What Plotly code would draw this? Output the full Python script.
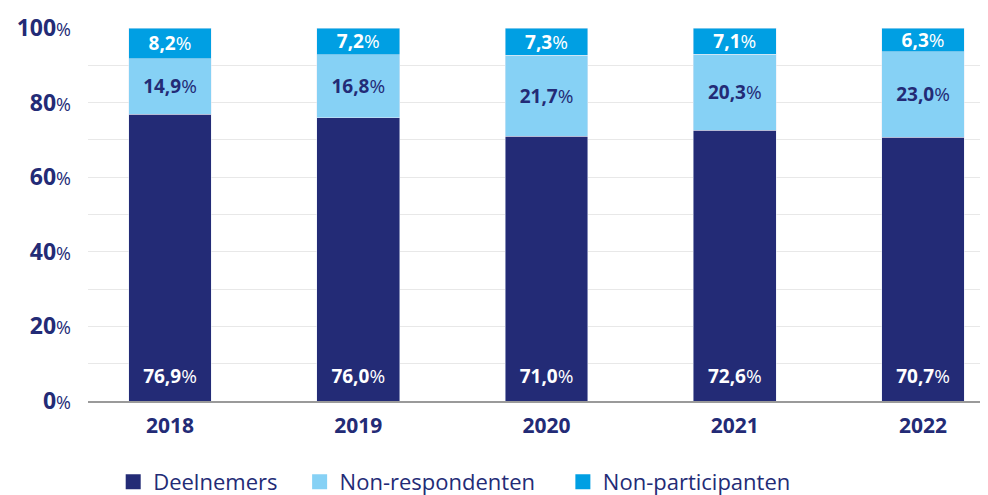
import plotly.graph_objects as go

years = ["2018", "2019", "2020", "2021", "2022"]
deelnemers = [76.9, 76.0, 71.0, 72.6, 70.7]
non_respondenten = [14.9, 16.8, 21.7, 20.3, 23.0]
non_participanten = [8.2, 7.2, 7.3, 7.1, 6.3]
y_ticks = [0, 20, 40, 60, 80, 100]
series_names = ["Deelnemers", "Non-respondenten", "Non-participanten"]

NAVY = "#232B76"
LIGHT = "#86D1F5"
MID = "#009FE3"
FONT = "Open Sans"
BAR_W = 0.44
LABEL_Y = 6.2  # vertical position (data units) of labels of the bottom segment
NBSP = "\u00a0"
LEGEND_PAD = [3, 4, 0]  # trailing spaces after each legend label


def fmt(v):
    return f"<b>{v:.1f}".replace(".", ",") + "</b>%"


fig = go.Figure()
fig.add_trace(go.Bar(
    x=years, y=deelnemers, name=series_names[0], marker_color=NAVY,
    width=BAR_W, showlegend=False, hoverinfo="skip",
))
fig.add_trace(go.Bar(
    x=years, y=non_respondenten, name=series_names[1], marker_color=LIGHT,
    text=[fmt(v) for v in non_respondenten], textposition="inside",
    insidetextanchor="middle", constraintext="none",
    textfont=dict(color=NAVY, size=19, family=FONT), width=BAR_W,
    showlegend=False, hoverinfo="skip",
))
fig.add_trace(go.Bar(
    x=years, y=non_participanten, name=series_names[2], marker_color=MID,
    text=[fmt(v) for v in non_participanten], textposition="inside",
    insidetextanchor="middle", constraintext="none",
    textfont=dict(color="white", size=19, family=FONT), width=BAR_W,
    showlegend=False, hoverinfo="skip",
))
# labels of the bottom segment, near the base of the bars
fig.add_trace(go.Scatter(
    x=years, y=[LABEL_Y] * len(years), mode="text",
    text=[fmt(v) for v in deelnemers],
    textfont=dict(color="white", size=19, family=FONT),
    showlegend=False, hoverinfo="skip",
))
# legend entries with larger square symbols
for name, col, pad in zip(series_names, [NAVY, LIGHT, MID], LEGEND_PAD):
    fig.add_trace(go.Scatter(
        x=[None], y=[None], mode="markers", name=name + NBSP * pad,
        marker=dict(symbol="square", size=15, color=col),
    ))

fig.update_layout(
    barmode="stack",
    width=988, height=495,
    margin=dict(l=80, r=8, t=20, b=102, autoexpand=False),
    plot_bgcolor="white", paper_bgcolor="white",
    font=dict(family=FONT, color=NAVY),
    showlegend=True,
    legend=dict(
        orientation="h", x=0.028, xanchor="left", y=-0.217, yanchor="middle",
        font=dict(size=22, color=NAVY, family=FONT),
        traceorder="normal", itemwidth=30,
    ),
    xaxis=dict(
        type="category", range=[-0.4356, 4.345], automargin=False,
        tickfont=dict(size=21, color=NAVY, family=FONT),
        ticktext=[f"<b>{y}</b>" for y in years], tickvals=years,
        showgrid=False, showline=True, linecolor="#9A9A9A", linewidth=2,
        ticks="", ticklabelstandoff=5,
    ),
    yaxis=dict(
        range=[0, 100], automargin=False,
        tickvals=list(range(0, 101, 10)),
        ticktext=[f"<b>{v}</b><span style='font-size:18px'>%</span>" if v in y_ticks else ""
                  for v in range(0, 101, 10)],
        tickfont=dict(size=23, color=NAVY, family=FONT),
        showgrid=True, gridcolor="#E8E8E8", gridwidth=1,
        zeroline=False, ticks="", ticklabelstandoff=16,
    ),
)

fig.write_html("out.html")
